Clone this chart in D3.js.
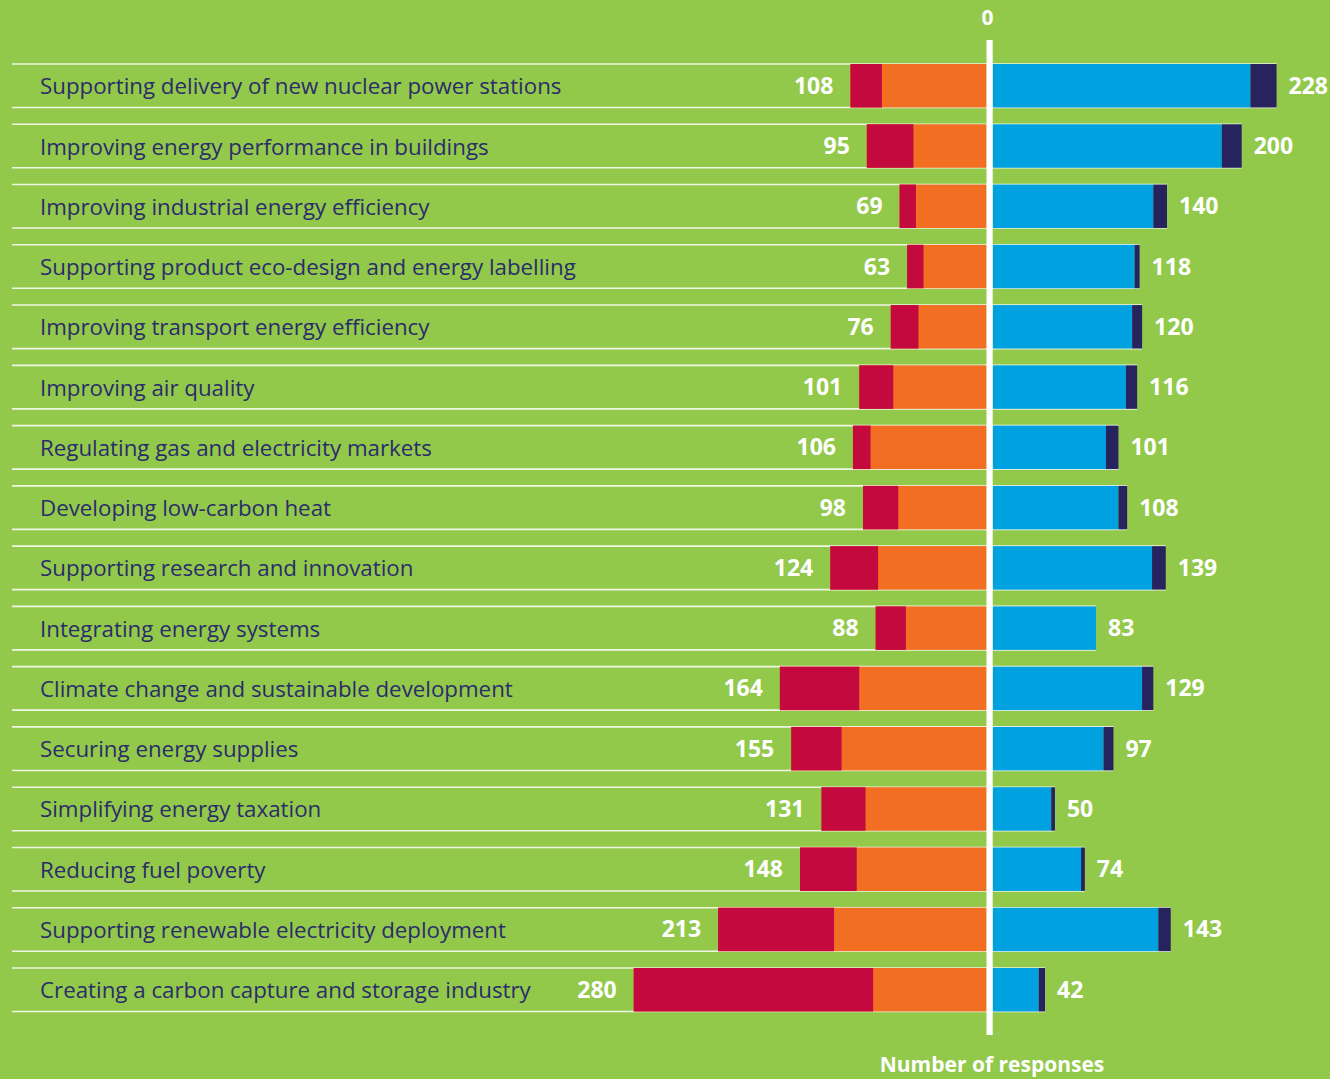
<!DOCTYPE html>
<html>
<head>
<meta charset="utf-8">
<script src="https://cdn.jsdelivr.net/npm/d3@7"></script>
<style>
  html, body { margin: 0; padding: 0; background: #92c94a; }
  svg { display: block; }
</style>
</head>
<body>
<div id="chart"></div>
<script>
width = 1330
height = 1079

var categories = [
  "Supporting delivery of new nuclear power stations",
  "Improving energy performance in buildings",
  "Improving industrial energy efficiency",
  "Supporting product eco-design and energy labelling",
  "Improving transport energy efficiency",
  "Improving air quality",
  "Regulating gas and electricity markets",
  "Developing low-carbon heat",
  "Supporting research and innovation",
  "Integrating energy systems",
  "Climate change and sustainable development",
  "Securing energy supplies",
  "Simplifying energy taxation",
  "Reducing fuel poverty",
  "Supporting renewable electricity deployment",
  "Creating a carbon capture and storage industry"
]

// left side (red = strongly negative, orange = negative)
var strongNeg = [25, 37, 13, 13, 22, 27, 14, 28, 38, 24, 63, 40, 35, 45, 92, 190]
var neg       = [83, 58, 56, 50, 54, 74, 92, 70, 86, 64, 101, 115, 96, 103, 121, 90]
// right side (blue = positive, navy = strongly positive)
var pos       = [207, 184, 129, 114, 112, 107, 91, 101, 128, 83, 120, 89, 47, 71, 133, 37]
var strongPos = [21, 16, 11, 4, 8, 9, 10, 7, 11, 0, 9, 8, 3, 3, 10, 5]

var zeroLabel = "0"
var axisTitle = "Number of responses"

var colors = {
  strongNeg: "#c4093e",
  neg: "#f26e22",
  pos: "#00a1e0",
  strongPos: "#27235f",
  label: "#2b2c6a",
  bg: "#92c94a"
}

let svg = d3.select("#chart")
  .append("svg")
  .attr("width", width)
  .attr("height", height)

svg.append("rect")
  .attr("width", width)
  .attr("height", height)
  .attr("fill", colors.bg)

var LEFT_PX = 1.26
var RIGHT_PX = 1.245
var xl = d3.scaleLinear().domain([0, 300]).range([986.5, 986.5 - 300 * LEFT_PX])
var xr = d3.scaleLinear().domain([0, 300]).range([992.7, 992.7 + 300 * RIGHT_PX])

var y = d3.scaleBand()
  .domain(categories)
  .range([64, 1011.5])
  .paddingInner(0.278)
  .paddingOuter(0)

var rows = categories.map(function(c, i) {
  return {
    name: c,
    strongNeg: strongNeg[i],
    neg: neg[i],
    pos: pos[i],
    strongPos: strongPos[i],
    negTotal: strongNeg[i] + neg[i],
    posTotal: pos[i] + strongPos[i]
  }
})

var row = svg.selectAll("g.row")
  .data(rows)
  .enter().append("g")
  .attr("class", "row")
  .attr("transform", function(d) { return `translate(0, ${y(d.name)})` })

var bh = y.bandwidth()

// white rules above and below each row
row.selectAll("line.rule")
  .data(function(d) { return [{ d: d, yy: 0 }, { d: d, yy: bh }] })
  .enter().append("line")
  .attr("class", "rule")
  .attr("x1", 12)
  .attr("x2", function(e) { return xr(e.d.posTotal) })
  .attr("y1", function(e) { return e.yy })
  .attr("y2", function(e) { return e.yy })
  .attr("stroke", "#ffffff")
  .attr("stroke-opacity", 0.85)
  .attr("stroke-width", 1.6)

// left segments
row.append("rect")
  .attr("x", function(d) { return xl(d.negTotal) })
  .attr("y", 0)
  .attr("width", function(d) { return xl(0) - xl(d.negTotal) })
  .attr("height", bh)
  .attr("fill", colors.neg)

row.append("rect")
  .attr("x", function(d) { return xl(d.negTotal) })
  .attr("y", 0)
  .attr("width", function(d) { return xl(d.neg) - xl(d.negTotal) })
  .attr("height", bh)
  .attr("fill", colors.strongNeg)

// right segments
row.append("rect")
  .attr("x", xr(0))
  .attr("y", 0)
  .attr("width", function(d) { return xr(d.pos) - xr(0) })
  .attr("height", bh)
  .attr("fill", colors.pos)

row.append("rect")
  .attr("x", function(d) { return xr(d.pos) })
  .attr("y", 0)
  .attr("width", function(d) { return xr(d.posTotal) - xr(d.pos) })
  .attr("height", bh)
  .attr("fill", colors.strongPos)

// category labels
row.append("text")
  .attr("x", 40)
  .attr("y", bh / 2 + 8.5)
  .style("font-family", "'Open Sans', sans-serif")
  .style("font-size", "22.3px")
  .attr("fill", colors.label)
  .text(function(d) { return d.name })

// totals
row.append("text")
  .attr("x", function(d) { return xl(d.negTotal) - 17 })
  .attr("y", bh / 2 + 8)
  .attr("text-anchor", "end")
  .style("font-family", "'Open Sans', sans-serif")
  .style("font-weight", "bold")
  .style("font-size", "23px")
  .attr("fill", "#ffffff")
  .text(function(d) { return d.negTotal })

row.append("text")
  .attr("x", function(d) { return xr(d.posTotal) + 12 })
  .attr("y", bh / 2 + 8)
  .attr("text-anchor", "start")
  .style("font-family", "'Open Sans', sans-serif")
  .style("font-weight", "bold")
  .style("font-size", "23px")
  .attr("fill", "#ffffff")
  .text(function(d) { return d.posTotal })

// zero line
svg.append("rect")
  .attr("x", xl(0))
  .attr("y", 40)
  .attr("width", xr(0) - xl(0))
  .attr("height", 995)
  .attr("fill", "#ffffff")

svg.append("text")
  .attr("x", (xl(0) + xr(0)) / 2 - 2)
  .attr("y", 25)
  .attr("text-anchor", "middle")
  .style("font-family", "'Open Sans', sans-serif")
  .style("font-weight", "bold")
  .style("font-size", "21px")
  .attr("fill", "#ffffff")
  .text(zeroLabel)

svg.append("text")
  .attr("x", 992)
  .attr("y", 1072)
  .attr("text-anchor", "middle")
  .style("font-family", "'Open Sans', sans-serif")
  .style("font-weight", "bold")
  .style("font-size", "21px")
  .attr("fill", "#ffffff")
  .text(axisTitle)
</script>
</body>
</html>
